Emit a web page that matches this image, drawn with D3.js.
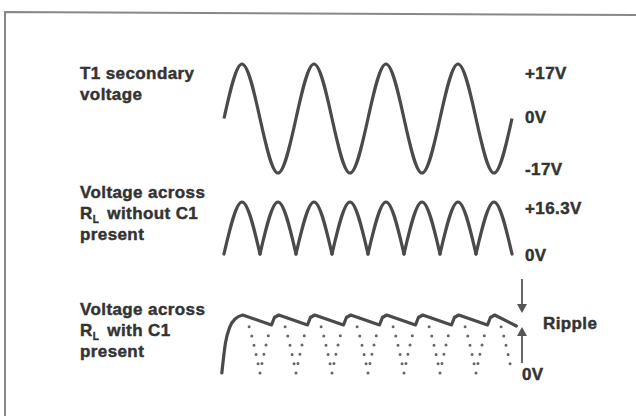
<!DOCTYPE html>
<html lang="en">
<head>
<meta charset="UTF-8">
<script src="https://cdn.jsdelivr.net/npm/d3@7"></script>
<title>Rectifier waveforms</title>
<style>
  body { margin: 0; background: #fff; }
  text { font-family: "Liberation Sans", Arial, sans-serif; font-weight: bold; fill: #333; stroke: #333; stroke-width: 0.45px; font-size: 17px; letter-spacing: 0.4px; }
</style>
</head>
<body>
<div id="chart"></div>
<script>
// time in mains cycles, voltage in volts
var secT = [0, 0.25, 0.5, 0.75, 1, 1.25, 1.5, 1.75, 2, 2.25, 2.5, 2.75, 3, 3.25, 3.5, 3.75, 4];
var secV = [0, 17, 0, -17, 0, 17, 0, -17, 0, 17, 0, -17, 0, 17, 0, -17, 0];
var rectV = [0, 16.3, 0, 16.3, 0, 16.3, 0, 16.3, 0, 16.3, 0, 16.3, 0, 16.3, 0, 16.3, 0];

// filtered output (peaks, ripple troughs)
var filtT = [-0.03, 0.02, 0.08, 0.16, 0.26, 0.66, 0.7, 0.76, 1.16, 1.2, 1.26, 1.66, 1.7, 1.76,
             2.16, 2.2, 2.26, 2.66, 2.7, 2.76, 3.16, 3.2, 3.26, 3.66, 3.7, 3.76, 4.06];
var filtV = [0, 8.4, 12.9, 15.3, 16.3, 13.5, 15.6, 16.3, 13.5, 15.6, 16.3, 13.5, 15.6, 16.3,
             13.5, 15.6, 16.3, 13.5, 15.6, 16.3, 13.5, 15.6, 16.3, 13.5, 15.6, 16.3, 13.2];

var leftLabels = [
  ["T1 secondary", "voltage"],
  ["Voltage across", "R|L| without C1", "present"],
  ["Voltage across", "R|L| with C1", "present"]
];
var topTicks = ["+17V", "0V", "-17V"];
var midTicks = ["+16.3V", "0V"];
var botTicks = ["Ripple", "0V"];

var width = 636, height = 416;
var ink = "#4a4a4a";

var svg = d3.select("#chart").append("svg")
    .attr("width", width)
    .attr("height", height);

// scanned frame (top and left edges only)
svg.append("path")
    .attr("d", "M5," + height + " L5,12 L" + width + ",15")
    .attr("fill", "none")
    .attr("stroke", "#888")
    .attr("stroke-width", 2);

var x = d3.scaleLinear().domain([0, 4]).range([224, 512]);
var yTop = d3.scaleLinear().domain([-17, 17]).range([173, 64]);
var yMid = d3.scaleLinear().domain([0, 16.3]).range([254, 202]);
var yBot = d3.scaleLinear().domain([0, 16.3]).range([373, 315]);

var secData = secT.map(function(t, i) { return [t, secV[i]]; });
var rectData = secT.map(function(t, i) { return [t, rectV[i]]; });
var filtData = filtT.map(function(t, i) { return [t, filtV[i]]; });

// each half-cycle hump is drawn on its own so the cusps stay sharp
var humps = d3.range(8).map(function(i) { return rectData.slice(2 * i, 2 * i + 3); });

// T1 secondary
svg.append("path")
    .datum(secData)
    .attr("fill", "none")
    .attr("stroke", ink)
    .attr("stroke-width", 3.2)
    .attr("d", d3.line().curve(d3.curveNatural)
        .x(function(d) { return x(d[0]); })
        .y(function(d) { return yTop(d[1]); }));

// full-wave rectified, no C1
var midLine = d3.line().curve(d3.curveNatural)
    .x(function(d) { return x(d[0]); })
    .y(function(d) { return yMid(d[1]); });
svg.append("g").selectAll("path")
    .data(humps)
    .enter().append("path")
    .attr("fill", "none")
    .attr("stroke", ink)
    .attr("stroke-width", 3.2)
    .attr("stroke-linecap", "round")
    .attr("d", midLine);

// with C1: dotted humps under the held voltage
var clipArea = d3.area()
    .x(function(d) { return x(d[0]); })
    .y0(height)
    .y1(function(d) { return yBot(d[1]) + 7; });
svg.append("defs").append("clipPath")
    .attr("id", "under")
    .append("path")
    .attr("d", clipArea(filtData.slice(4)));

var botHump = d3.line().curve(d3.curveNatural)
    .x(function(d) { return x(d[0]); })
    .y(function(d) { return yBot(d[1]); });
svg.append("g")
    .attr("clip-path", "url(#under)")
    .selectAll("path")
    .data(humps)
    .enter().append("path")
    .attr("fill", "none")
    .attr("stroke", "#666")
    .attr("stroke-width", 3)
    .attr("stroke-linecap", "round")
    .attr("stroke-dasharray", "0 9.5")
    .attr("d", botHump);

svg.append("path")
    .datum(filtData)
    .attr("fill", "none")
    .attr("stroke", ink)
    .attr("stroke-width", 3.2)
    .attr("stroke-linejoin", "round")
    .attr("stroke-linecap", "round")
    .attr("d", d3.line().curve(d3.curveMonotoneX)
        .x(function(d) { return x(d[0]); })
        .y(function(d) { return yBot(d[1]); })(filtData.slice(0, 5)) +
        d3.line()
        .x(function(d) { return x(d[0]); })
        .y(function(d) { return yBot(d[1]); })(filtData.slice(4)).replace("M", "L"));

// left captions
var firstBase = [79, 198, 315];
leftLabels.forEach(function(lines, p) {
  lines.forEach(function(s, j) {
    var t = svg.append("text")
        .attr("x", 80)
        .attr("y", firstBase[p] + j * 21);
    var parts = s.split("|");
    if (parts.length === 1) {
      t.text(s);
    } else {
      t.append("tspan").text(parts[0]);
      t.append("tspan").attr("font-size", "10px").attr("dy", 4).text(parts[1]);
      t.append("tspan").attr("dy", -4).attr("dx", 3).text(parts[2]);
    }
  });
});

// voltage labels on the right
var topY = [yTop(17) + 15, yTop(0) + 4, yTop(-17) + 2];
topTicks.forEach(function(s, i) {
  svg.append("text").attr("x", 525).attr("y", topY[i]).text(s);
});
var midY = [yMid(16.3) + 12, yMid(0) + 7];
midTicks.forEach(function(s, i) {
  svg.append("text").attr("x", 525).attr("y", midY[i]).text(s);
});
svg.append("text").attr("x", 543).attr("y", 329).text(botTicks[0]);
svg.append("text").attr("x", 522).attr("y", yBot(0) + 7).text(botTicks[1]);

// ripple arrows
var ax = 522;
var downTip = yBot(16.3) - 2, upTip = yBot(13.5) + 2;
function arrow(tip, dir, len) {
  svg.append("line")
      .attr("x1", ax).attr("x2", ax)
      .attr("y1", tip - dir * len).attr("y2", tip - dir * 6)
      .attr("stroke", "#666").attr("stroke-width", 2);
  svg.append("path")
      .attr("d", d3.line()([[ax - 5, tip - dir * 9], [ax + 5, tip - dir * 9], [ax, tip]]) + "Z")
      .attr("fill", "#555");
}
arrow(downTip, 1, 34);
arrow(upTip, -1, 36);
</script>
</body>
</html>
